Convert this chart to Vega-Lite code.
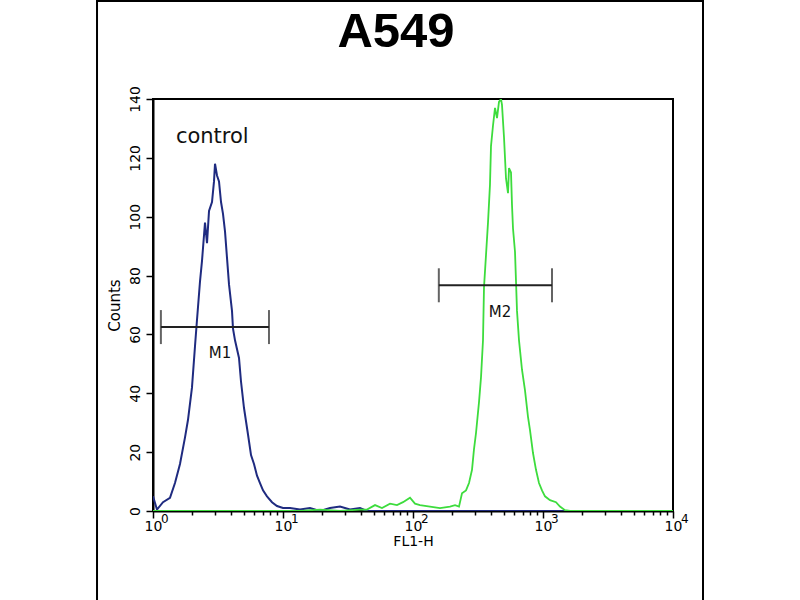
{
  "$schema": "https://vega.github.io/schema/vega-lite/v6.json",
  "width": 520,
  "height": 412,
  "autosize": {"type": "none"},
  "padding": {"left": 153, "top": 99, "right": 127, "bottom": 89},
  "background": "white",
  "config": {"view": {"stroke": "black", "strokeWidth": 2}, "font": "DejaVu Sans"},
  "datasets": {
    "control": [
      {"fl": 1, "count": 5}, {"fl": 1.073, "count": 0.5}, {"fl": 1.194, "count": 3}, {"fl": 1.351, "count": 4.5},
      {"fl": 1.476, "count": 9.5}, {"fl": 1.613, "count": 16}, {"fl": 1.763, "count": 25}, {"fl": 1.859, "count": 31},
      {"fl": 1.995, "count": 42}, {"fl": 2.104, "count": 56}, {"fl": 2.18, "count": 65}, {"fl": 2.299, "count": 78},
      {"fl": 2.382, "count": 85}, {"fl": 2.512, "count": 98}, {"fl": 2.603, "count": 91}, {"fl": 2.697, "count": 102},
      {"fl": 2.844, "count": 105}, {"fl": 2.946, "count": 112}, {"fl": 2.999, "count": 118}, {"fl": 3.107, "count": 114},
      {"fl": 3.219, "count": 112}, {"fl": 3.336, "count": 105}, {"fl": 3.455, "count": 101}, {"fl": 3.58, "count": 95},
      {"fl": 3.709, "count": 86}, {"fl": 3.843, "count": 77}, {"fl": 4.052, "count": 68}, {"fl": 4.125, "count": 62},
      {"fl": 4.274, "count": 58}, {"fl": 4.587, "count": 52}, {"fl": 4.753, "count": 44}, {"fl": 5.012, "count": 35},
      {"fl": 5.38, "count": 26}, {"fl": 5.675, "count": 19}, {"fl": 5.983, "count": 16}, {"fl": 6.31, "count": 12},
      {"fl": 6.654, "count": 9.5}, {"fl": 7.019, "count": 7}, {"fl": 7.531, "count": 5}, {"fl": 8.23, "count": 3},
      {"fl": 8.991, "count": 1.7}, {"fl": 10, "count": 1}, {"fl": 11.32, "count": 1}, {"fl": 13.51, "count": 0.5},
      {"fl": 16.13, "count": 1}, {"fl": 19.26, "count": 0}, {"fl": 22.99, "count": 1}, {"fl": 27.45, "count": 1.5},
      {"fl": 32.76, "count": 0.5}, {"fl": 39.11, "count": 1}, {"fl": 44.28, "count": 0}, {"fl": 10000, "count": 0}
    ],
    "stained": [
      {"fl": 1, "count": 0}, {"fl": 13.51, "count": 0}, {"fl": 19.26, "count": 0.5}, {"fl": 27.45, "count": 0},
      {"fl": 39.11, "count": 0.5}, {"fl": 44.28, "count": 0.5}, {"fl": 51.03, "count": 2}, {"fl": 57.73, "count": 1},
      {"fl": 66.56, "count": 2.5}, {"fl": 75.32, "count": 2}, {"fl": 83.79, "count": 3}, {"fl": 94.82, "count": 4.5},
      {"fl": 103.6, "count": 2.5}, {"fl": 113.2, "count": 2}, {"fl": 135.1, "count": 1.5}, {"fl": 161.3, "count": 1},
      {"fl": 192.6, "count": 1.5}, {"fl": 210.5, "count": 2}, {"fl": 225.9, "count": 1.5}, {"fl": 238.2, "count": 6},
      {"fl": 255.7, "count": 7}, {"fl": 269.7, "count": 9.5}, {"fl": 284.4, "count": 14}, {"fl": 294.6, "count": 21},
      {"fl": 305.3, "count": 26.5}, {"fl": 321.9, "count": 37}, {"fl": 333.6, "count": 45.5}, {"fl": 345.5, "count": 58},
      {"fl": 351.7, "count": 76}, {"fl": 364.4, "count": 87}, {"fl": 377.5, "count": 98}, {"fl": 391.1, "count": 111},
      {"fl": 398.1, "count": 124}, {"fl": 412.5, "count": 131}, {"fl": 427.4, "count": 137}, {"fl": 442.8, "count": 133.5},
      {"fl": 458.6, "count": 139}, {"fl": 475.3, "count": 140}, {"fl": 483.7, "count": 138}, {"fl": 501.2, "count": 127},
      {"fl": 519.3, "count": 113}, {"fl": 538, "count": 108}, {"fl": 547.6, "count": 116.5}, {"fl": 567.4, "count": 115},
      {"fl": 577.5, "count": 104}, {"fl": 587.9, "count": 96}, {"fl": 609.1, "count": 88}, {"fl": 620, "count": 78},
      {"fl": 631, "count": 68}, {"fl": 653.8, "count": 58}, {"fl": 689.4, "count": 48}, {"fl": 727, "count": 41},
      {"fl": 766.6, "count": 32}, {"fl": 794.3, "count": 27.5}, {"fl": 837.6, "count": 19.7}, {"fl": 883.3, "count": 14},
      {"fl": 931.4, "count": 9.5}, {"fl": 982.3, "count": 7}, {"fl": 1036, "count": 5}, {"fl": 1132, "count": 3.7},
      {"fl": 1259, "count": 3}, {"fl": 1351, "count": 1.5}, {"fl": 1476, "count": 0.3}, {"fl": 1613, "count": 0},
      {"fl": 10000, "count": 0}
    ],
    "markers": [
      {"name": "M1", "lo": 1.15, "hi": 7.8, "level": 62.5},
      {"name": "M2", "lo": 158, "hi": 1173, "level": 76.7}
    ],
    "decades": [
      {"fl": 1, "exponent": "0"}, {"fl": 10, "exponent": "1"}, {"fl": 100, "exponent": "2"},
      {"fl": 1000, "exponent": "3"}, {"fl": 10000, "exponent": "4"}
    ]
  },
  "layer": [
    {
      "data": {"name": "control"},
      "mark": {"type": "line", "color": "#1f2b80", "strokeWidth": 2, "clip": true},
      "encoding": {
        "x": {
          "field": "fl", "type": "quantitative",
          "scale": {"type": "log", "domain": [1, 10000], "nice": false},
          "axis": {
            "values": [1,2,3,4,5,6,7,8,9,10,20,30,40,50,60,70,80,90,100,200,300,400,500,600,700,800,900,1000,2000,3000,4000,5000,6000,7000,8000,9000,10000],
            "labelExpr": "indexof([1,10,100,1000,10000], datum.value) >= 0 ? '10' : ''",
            "tickSize": {"condition": {"test": "indexof([1,10,100,1000,10000], datum.value) >= 0", "value": 7}, "value": 4},
            "tickColor": "black", "tickWidth": 1.5,
            "domainColor": "black", "domainWidth": 2,
            "grid": false, "labelOverlap": false, "labelFlush": false,
            "labelFont": "DejaVu Sans", "labelFontSize": 14, "labelColor": "black", "labelPadding": 1, "labelDx": -3,
            "title": "FL1-H", "titleFont": "DejaVu Sans", "titleFontSize": 14, "titleFontWeight": "normal", "titleColor": "black", "titlePadding": 1
          }
        },
        "y": {
          "field": "count", "type": "quantitative",
          "scale": {"domain": [0, 140], "nice": false},
          "axis": {
            "values": [0,5,10,15,20,25,30,35,40,45,50,55,60,65,70,75,80,85,90,95,100,105,110,115,120,125,130,135,140],
            "labelExpr": "datum.value % 20 === 0 ? datum.label : ''",
            "tickSize": {"condition": {"test": "datum.value % 20 === 0", "value": 7}, "value": 4},
            "tickColor": "black", "tickWidth": 1.5,
            "domainColor": "black", "domainWidth": 2,
            "grid": false, "labelOverlap": false, "labelFlush": false,
            "labelAngle": 270, "labelAlign": "center", "labelBaseline": "alphabetic",
            "labelFont": "DejaVu Sans", "labelFontSize": 14, "labelColor": "black", "labelPadding": 7,
            "title": "Counts", "titleFont": "DejaVu Sans", "titleFontSize": 15, "titleFontWeight": "normal", "titleColor": "black", "titlePadding": 6
          }
        }
      }
    },
    {
      "data": {"name": "stained"},
      "mark": {"type": "line", "color": "#3ddc3d", "strokeWidth": 1.8, "clip": true},
      "encoding": {
        "x": {"field": "fl", "type": "quantitative"},
        "y": {"field": "count", "type": "quantitative"}
      }
    },
    {
      "data": {"name": "markers"},
      "mark": {"type": "rule", "color": "#222222", "strokeWidth": 2},
      "encoding": {
        "x": {"field": "lo", "type": "quantitative"},
        "x2": {"field": "hi"},
        "y": {"field": "level", "type": "quantitative"}
      }
    },
    {
      "data": {"name": "markers"},
      "mark": {"type": "tick", "orient": "vertical", "size": 34, "thickness": 2, "color": "#222222"},
      "encoding": {
        "x": {"field": "lo", "type": "quantitative"},
        "y": {"field": "level", "type": "quantitative"}
      }
    },
    {
      "data": {"name": "markers"},
      "mark": {"type": "tick", "orient": "vertical", "size": 34, "thickness": 2, "color": "#222222"},
      "encoding": {
        "x": {"field": "hi", "type": "quantitative"},
        "y": {"field": "level", "type": "quantitative"}
      }
    },
    {
      "data": {"name": "decades"},
      "mark": {"type": "text", "font": "DejaVu Sans", "fontSize": 12, "align": "left", "baseline": "alphabetic", "dx": 8, "color": "black", "clip": false},
      "encoding": {
        "x": {"field": "fl", "type": "quantitative"},
        "y": {"datum": -4, "type": "quantitative"},
        "text": {"field": "exponent"}
      }
    },
    {
      "data": {"values": [{}]},
      "mark": {"type": "text", "text": "A549", "font": "Liberation Sans", "fontSize": 49, "fontWeight": "bold", "align": "center", "baseline": "alphabetic", "color": "black", "clip": false},
      "encoding": {"x": {"datum": 74, "type": "quantitative"}, "y": {"datum": 157.7, "type": "quantitative"}}
    },
    {
      "data": {"values": [{}]},
      "mark": {"type": "text", "text": "control", "font": "DejaVu Sans", "fontSize": 21, "align": "left", "baseline": "alphabetic", "color": "#111111"},
      "encoding": {"x": {"datum": 1.5, "type": "quantitative"}, "y": {"datum": 125, "type": "quantitative"}}
    },
    {
      "data": {"values": [{}]},
      "mark": {"type": "text", "text": "M1", "font": "DejaVu Sans", "fontSize": 15, "align": "center", "baseline": "alphabetic", "color": "#111111"},
      "encoding": {"x": {"datum": 3.28, "type": "quantitative"}, "y": {"datum": 52, "type": "quantitative"}}
    },
    {
      "data": {"values": [{}]},
      "mark": {"type": "text", "text": "M2", "font": "DejaVu Sans", "fontSize": 15, "align": "center", "baseline": "alphabetic", "color": "#111111"},
      "encoding": {"x": {"datum": 467, "type": "quantitative"}, "y": {"datum": 66, "type": "quantitative"}}
    },
    {
      "data": {"values": [{}]},
      "mark": {"type": "rect", "fill": null, "stroke": "black", "strokeWidth": 2, "clip": false},
      "encoding": {
        "x": {"datum": 0.371, "type": "quantitative"},
        "x2": {"datum": 17013},
        "y": {"datum": 173.3, "type": "quantitative"},
        "y2": {"datum": -31}
      }
    }
  ]
}
